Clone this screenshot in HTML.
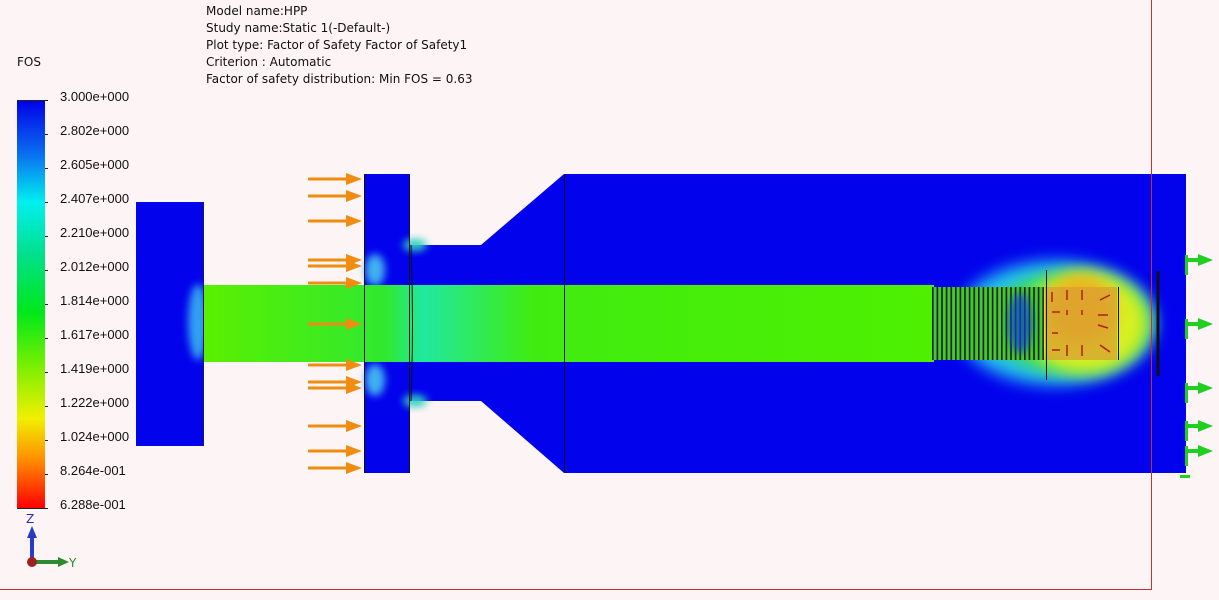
<!DOCTYPE html>
<html><head><meta charset="utf-8"><style>
html,body{margin:0;padding:0;background:#fdf5f5;}
svg{display:block;}
text{font-family:"DejaVu Sans","Liberation Sans",sans-serif;font-size:12px;fill:#111;}
.lg{font-family:"Liberation Sans",sans-serif;font-size:13px;}
</style></head><body>
<svg width="1219" height="600" viewBox="0 0 1219 600" xmlns="http://www.w3.org/2000/svg">
<defs>
<linearGradient id="leg" x1="0" y1="0" x2="0" y2="1">
<stop offset="0" stop-color="#0000e8"/>
<stop offset="0.13" stop-color="#0a6cf0"/>
<stop offset="0.25" stop-color="#00f0f0"/>
<stop offset="0.38" stop-color="#00e08a"/>
<stop offset="0.52" stop-color="#00e81a"/>
<stop offset="0.66" stop-color="#80f000"/>
<stop offset="0.78" stop-color="#f0f000"/>
<stop offset="0.88" stop-color="#ff9000"/>
<stop offset="1" stop-color="#ff0000"/>
</linearGradient>
<linearGradient id="rod" x1="0" y1="0" x2="1" y2="0">
<stop offset="0" stop-color="#5af000"/>
<stop offset="0.25" stop-color="#30e830"/>
<stop offset="0.3" stop-color="#20e8a0"/>
<stop offset="0.45" stop-color="#40ec10"/>
<stop offset="1" stop-color="#4ef000"/>
</linearGradient>
<filter id="bl" x="-50%" y="-50%" width="200%" height="200%"><feGaussianBlur stdDeviation="8"/></filter>
<filter id="bl2" x="-50%" y="-50%" width="200%" height="200%"><feGaussianBlur stdDeviation="4"/></filter>
<pattern id="thr" x="932" y="0" width="4.6" height="10" patternUnits="userSpaceOnUse">
<rect width="4.6" height="10" fill="#48c828"/>
<rect x="0" width="1.6" height="10" fill="#102030"/>
</pattern>
</defs>

<!-- header text -->
<text x="206" y="15">Model name:HPP</text>
<text x="206" y="32">Study name:Static 1(-Default-)</text>
<text x="206" y="49">Plot type: Factor of Safety Factor of Safety1</text>
<text x="206" y="66">Criterion : Automatic</text>
<text x="206" y="83">Factor of safety distribution: Min FOS =  0.63</text>
<text x="17" y="66">FOS</text>

<!-- legend -->
<rect x="17" y="100" width="28" height="408" fill="url(#leg)"/>
<g stroke="#222" stroke-width="1">
<line x1="17" y1="100.5" x2="48" y2="100.5"/><line x1="17" y1="508.5" x2="48" y2="508.5"/>
<line x1="45" y1="134.5" x2="48" y2="134.5"/><line x1="45" y1="168.5" x2="48" y2="168.5"/>
<line x1="45" y1="202.5" x2="48" y2="202.5"/><line x1="45" y1="236.5" x2="48" y2="236.5"/>
<line x1="45" y1="270.5" x2="48" y2="270.5"/><line x1="45" y1="304.5" x2="48" y2="304.5"/>
<line x1="45" y1="338.5" x2="48" y2="338.5"/><line x1="45" y1="372.5" x2="48" y2="372.5"/>
<line x1="45" y1="406.5" x2="48" y2="406.5"/><line x1="45" y1="440.5" x2="48" y2="440.5"/>
<line x1="45" y1="474.5" x2="48" y2="474.5"/>
</g>
<g class="lg">
<text class="lg" x="60" y="101">3.000e+000</text>
<text class="lg" x="60" y="135">2.802e+000</text>
<text class="lg" x="60" y="169">2.605e+000</text>
<text class="lg" x="60" y="203">2.407e+000</text>
<text class="lg" x="60" y="237">2.210e+000</text>
<text class="lg" x="60" y="271">2.012e+000</text>
<text class="lg" x="60" y="305">1.814e+000</text>
<text class="lg" x="60" y="339">1.617e+000</text>
<text class="lg" x="60" y="373">1.419e+000</text>
<text class="lg" x="60" y="407">1.222e+000</text>
<text class="lg" x="60" y="441">1.024e+000</text>
<text class="lg" x="60" y="475">8.264e-001</text>
<text class="lg" x="60" y="509">6.288e-001</text>
</g>

<!-- triad -->
<text x="26" y="523" style="fill:#2030c0;font-size:12px">Z</text>
<line x1="32" y1="562" x2="32" y2="535" stroke="#2a3ac8" stroke-width="4"/>
<polygon points="27,538 37,538 32,526" fill="#2a3ac8"/>
<line x1="32" y1="562" x2="60" y2="562" stroke="#2e8a2e" stroke-width="4"/>
<polygon points="58,557 58,567 69,562" fill="#2e8a2e"/>
<circle cx="32" cy="562" r="5" fill="#a02020"/>
<text x="69" y="567" style="fill:#2e8a2e">Y</text>

<!-- left block -->
<rect x="136" y="202" width="67" height="244" fill="#0202ec"/>
<ellipse cx="198" cy="322" rx="10" ry="38" fill="#30a0f0" filter="url(#bl2)"/>
<line x1="203.5" y1="202" x2="203.5" y2="446" stroke="#1a1a60"/>

<!-- neck & taper -->
<polygon points="409,245 481,245 564,174 564,473 481,401 409,401" fill="#0202ec"/>
<rect x="364" y="174" width="45" height="299" fill="#0202ec"/>
<rect x="564" y="174" width="622" height="299" fill="#0202ec"/>

<ellipse cx="375" cy="270" rx="10" ry="16" fill="#40b0f0" filter="url(#bl2)"/>
<ellipse cx="375" cy="380" rx="10" ry="16" fill="#40b0f0" filter="url(#bl2)"/>
<ellipse cx="415" cy="245" rx="12" ry="6" fill="#30d0c0" filter="url(#bl2)"/>
<ellipse cx="415" cy="401" rx="12" ry="6" fill="#30d0c0" filter="url(#bl2)"/>

<!-- right hot zone glow -->
<ellipse cx="1055" cy="323" rx="100" ry="62" fill="#20c0f0" filter="url(#bl)"/>
<ellipse cx="1070" cy="323" rx="80" ry="50" fill="#40e050" filter="url(#bl)"/>
<ellipse cx="1085" cy="323" rx="62" ry="50" fill="#d8f020" filter="url(#bl)"/>
<ellipse cx="1080" cy="310" rx="35" ry="35" fill="#f0b020" filter="url(#bl)"/>

<!-- rod -->
<rect x="204" y="285" width="730" height="77" fill="url(#rod)"/>
<rect x="932" y="287" width="112" height="73" fill="url(#thr)"/>
<ellipse cx="1020" cy="323" rx="12" ry="30" fill="#1040d0" opacity="0.7" filter="url(#bl2)"/>
<rect x="1045" y="287" width="72" height="73" fill="#d8a030" opacity="0.75"/>
<g stroke="#b02010" stroke-width="1.5">
<line x1="1052" y1="292" x2="1052" y2="302"/><line x1="1067" y1="290" x2="1067" y2="300"/><line x1="1082" y1="290" x2="1082" y2="300"/>
<line x1="1052" y1="312" x2="1060" y2="312"/><line x1="1067" y1="310" x2="1067" y2="315"/><line x1="1082" y1="310" x2="1082" y2="315"/>
<line x1="1052" y1="333" x2="1058" y2="333"/><line x1="1052" y1="350" x2="1060" y2="350"/><line x1="1067" y1="345" x2="1067" y2="356"/><line x1="1082" y1="345" x2="1082" y2="356"/>
<line x1="1100" y1="300" x2="1110" y2="295"/><line x1="1098" y1="315" x2="1108" y2="315"/><line x1="1098" y1="325" x2="1108" y2="328"/><line x1="1100" y1="345" x2="1110" y2="352"/>
</g>
<g stroke="#101018" stroke-width="1" fill="none">
<line x1="564.5" y1="174" x2="564.5" y2="473"/>
<line x1="1046.5" y1="270" x2="1046.5" y2="380"/>
<line x1="1118.5" y1="287" x2="1118.5" y2="360"/>
<line x1="364.5" y1="174" x2="364.5" y2="473"/>
<line x1="409.5" y1="174" x2="409.5" y2="473"/>
<path d="M411,245 Q414,323 411,401"/>
</g>
<line x1="1158" y1="271" x2="1158" y2="376" stroke="#101010" stroke-width="3"/>

<!-- frame lines -->
<rect x="1151" y="0" width="1" height="590" fill="#c83030"/>
<rect x="0" y="589" width="1152" height="1" fill="#c83030"/>

<!-- orange arrows -->
<g fill="#f08c10">
<g transform="translate(0,179)"><rect x="308" y="-1.5" width="40" height="3"/><polygon points="346,-6 362,0 346,6"/></g>
<g transform="translate(0,196)"><rect x="308" y="-1.5" width="40" height="3"/><polygon points="346,-6 362,0 346,6"/></g>
<g transform="translate(0,221)"><rect x="308" y="-1.5" width="40" height="3"/><polygon points="346,-6 362,0 346,6"/></g>
<g transform="translate(0,260)"><rect x="308" y="-1.5" width="40" height="3"/><polygon points="346,-6 362,0 346,6"/></g>
<g transform="translate(0,266)"><rect x="308" y="-1.5" width="40" height="3"/><polygon points="346,-6 362,0 346,6"/></g>
<g transform="translate(0,283)"><rect x="308" y="-1.5" width="40" height="3"/><polygon points="346,-6 362,0 346,6"/></g>
<g transform="translate(0,324)"><rect x="308" y="-1.5" width="40" height="3"/><polygon points="346,-6 362,0 346,6"/></g>
<g transform="translate(0,365)"><rect x="308" y="-1.5" width="40" height="3"/><polygon points="346,-6 362,0 346,6"/></g>
<g transform="translate(0,382)"><rect x="308" y="-1.5" width="40" height="3"/><polygon points="346,-6 362,0 346,6"/></g>
<g transform="translate(0,388)"><rect x="308" y="-1.5" width="40" height="3"/><polygon points="346,-6 362,0 346,6"/></g>
<g transform="translate(0,426)"><rect x="308" y="-1.5" width="40" height="3"/><polygon points="346,-6 362,0 346,6"/></g>
<g transform="translate(0,451)"><rect x="308" y="-1.5" width="40" height="3"/><polygon points="346,-6 362,0 346,6"/></g>
<g transform="translate(0,468)"><rect x="308" y="-1.5" width="40" height="3"/><polygon points="346,-6 362,0 346,6"/></g>
</g>

<!-- green fixture arrows -->
<g fill="#20d020">
<g transform="translate(0,260)"><rect x="1186" y="-2" width="14" height="4"/><polygon points="1198,-6 1213,0 1198,6"/><rect x="1185" y="-5" width="3" height="20"/></g>
<g transform="translate(0,324)"><rect x="1186" y="-2" width="14" height="4"/><polygon points="1198,-6 1213,0 1198,6"/><rect x="1185" y="-5" width="3" height="20"/></g>
<g transform="translate(0,388)"><rect x="1186" y="-2" width="14" height="4"/><polygon points="1198,-6 1213,0 1198,6"/><rect x="1185" y="-5" width="3" height="20"/></g>
<g transform="translate(0,426)"><rect x="1186" y="-2" width="14" height="4"/><polygon points="1198,-6 1213,0 1198,6"/><rect x="1185" y="-5" width="3" height="20"/></g>
<g transform="translate(0,451)"><rect x="1186" y="-2" width="14" height="4"/><polygon points="1198,-6 1213,0 1198,6"/><rect x="1185" y="-5" width="3" height="20"/></g>
<rect x="1180" y="475" width="10" height="3"/>
</g>
</svg>
</body></html>
